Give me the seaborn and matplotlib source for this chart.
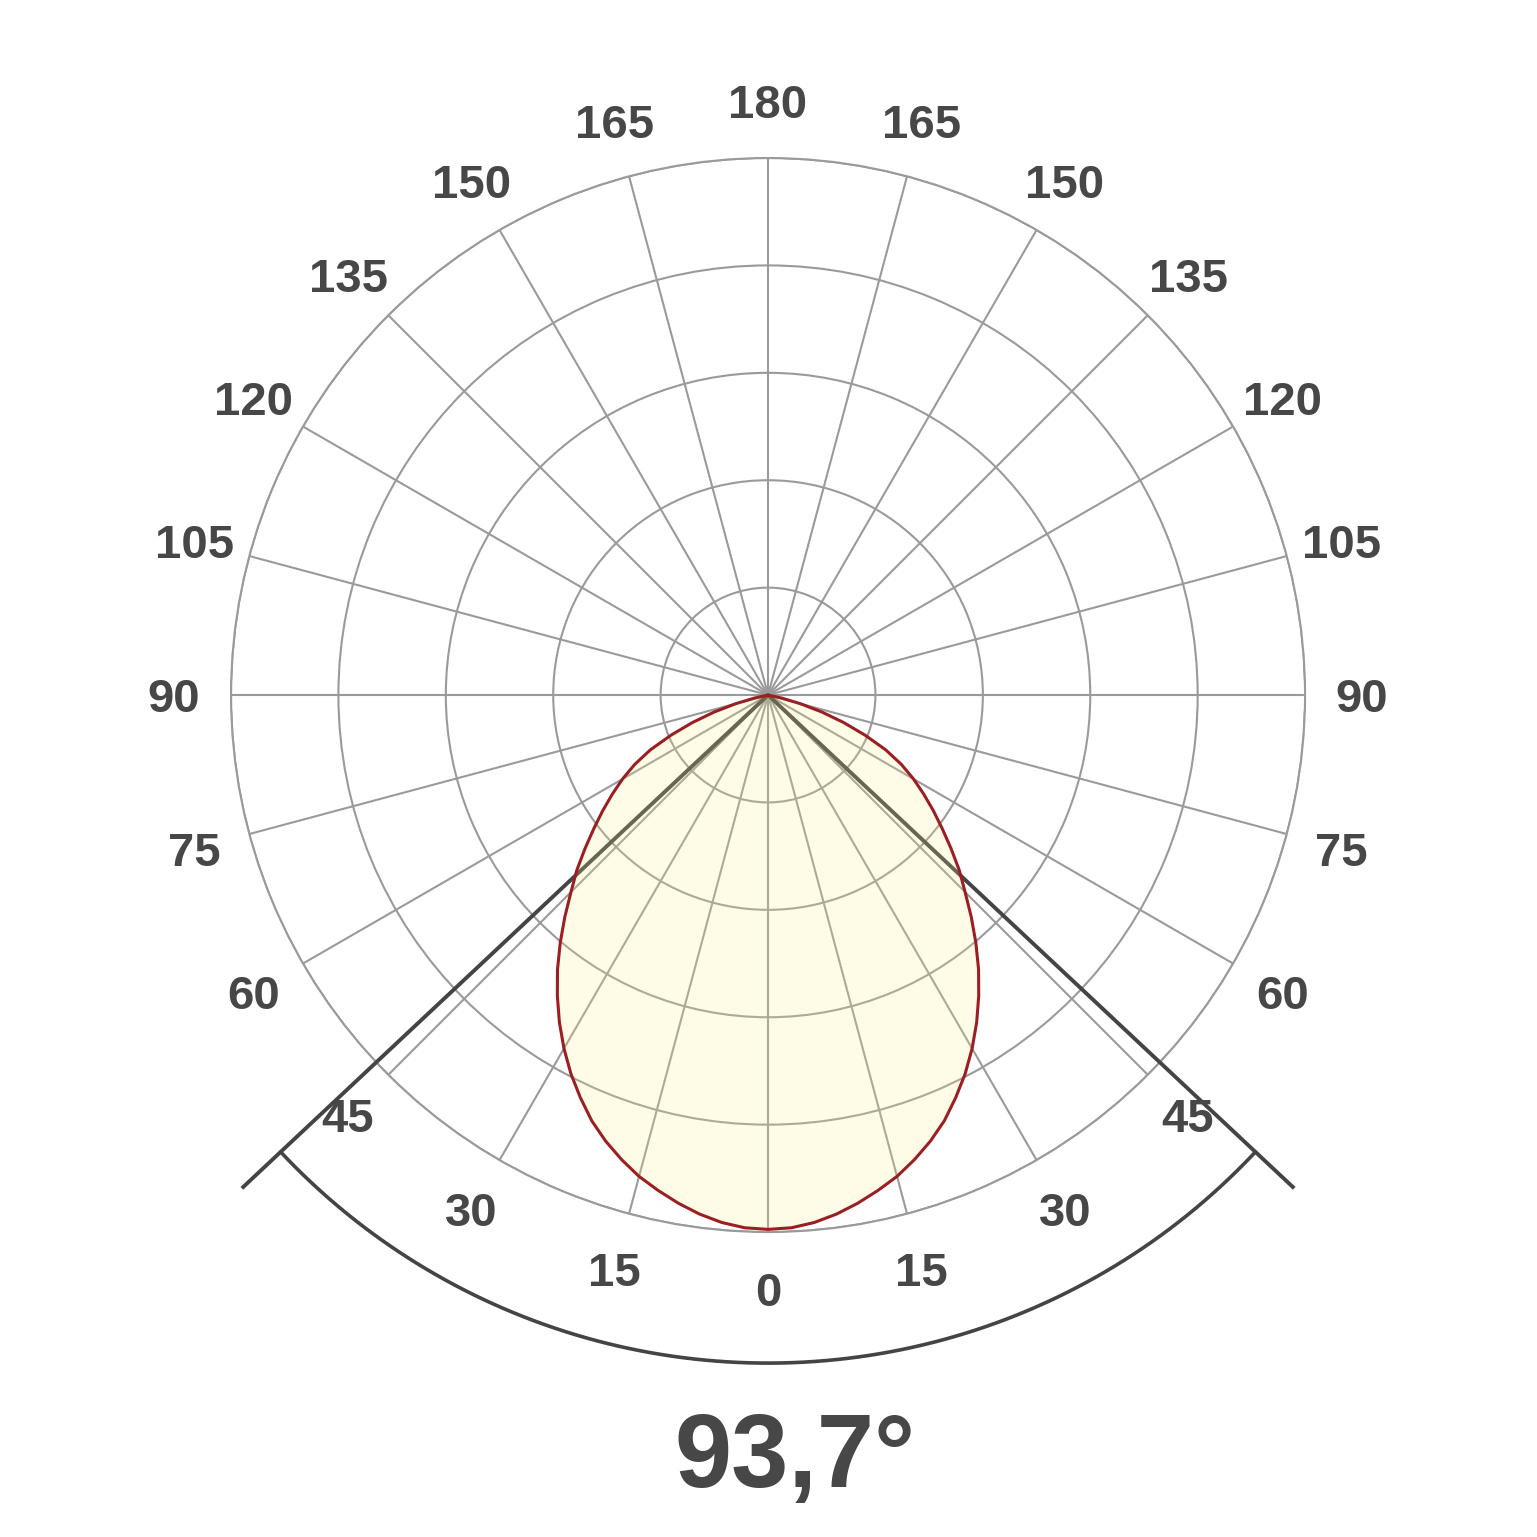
import numpy as np
import matplotlib.pyplot as plt
import seaborn as sns

# Normalised luminous intensity (symmetric, 0..90 deg)
angles = [0, 2.5, 5, 7.5, 10, 12.5, 15, 17.5, 20, 22.5, 25, 27.5, 30, 32.5, 35,
          37.5, 40, 42.5, 45, 47.5, 50, 52.5, 55, 57.5, 60, 62.5, 65, 67.5, 70,
          72.5, 75, 77.5, 80, 82.5, 85, 87.5, 90]
intensity = [0.995, 0.993, 0.986, 0.975, 0.961, 0.945, 0.928, 0.907, 0.884,
             0.858, 0.827, 0.795, 0.760, 0.723, 0.684, 0.644, 0.602, 0.560,
             0.519, 0.483, 0.445, 0.409, 0.376, 0.344, 0.313, 0.280, 0.242,
             0.196, 0.150, 0.105, 0.062, 0.025, 0.0, 0.0, 0.0, 0.0, 0.0]
beam_angle = 93.7
tick_angles = list(range(0, 360, 15))
tick_labels = [a if a <= 180 else 360 - a for a in tick_angles]
rings = [0.2, 0.4, 0.6, 0.8, 1.0]

sns.set_theme(style='white')
plt.rcParams['font.family'] = ['Liberation Sans', 'DejaVu Sans']

grid_col = '#9a9a9a'
text_col = '#474747'

fig = plt.figure(figsize=(15.37, 15.37), dpi=100)
ax = fig.add_axes([0.1503, 0.1984, 0.6988, 0.6988], projection='polar')
ax.set_theta_zero_location('S')
ax.set_ylim(0, 1)
ax.set_yticks(rings)
ax.set_yticklabels([])
ax.set_xticks(np.deg2rad(tick_angles))
ax.set_xticklabels([])
ax.grid(True, color=grid_col, linewidth=1.5)
ax.spines['polar'].set_color(grid_col)
ax.spines['polar'].set_linewidth(1.5)
ax.set_facecolor('white')

# full lobe from -90 to 90
theta = np.deg2rad(np.concatenate([-np.array(angles[::-1]), np.array(angles[1:])]))
r = np.concatenate([np.array(intensity[::-1]), np.array(intensity[1:])])

# beam angle lines + arc
half = np.deg2rad(beam_angle / 2)
for s in (-1, 1):
    ax.plot([0, s * half], [0, 1.343], color='#444444', linewidth=2.8,
            clip_on=False, zorder=3, solid_capstyle='butt')
arc_t = np.linspace(-half, half, 200)
ax.plot(arc_t, np.full_like(arc_t, 1.244), color='#444444', linewidth=2.6,
        clip_on=False, zorder=3)

ax.fill(theta, r, color='#faeb82', alpha=0.2, zorder=4, linewidth=0)
sns.lineplot(x=theta, y=r, ax=ax, sort=False, color='#9b1f22', linewidth=2.2,
             zorder=5)
ax.set_xlabel('')
ax.set_ylabel('')

for a, lbl in zip(tick_angles, tick_labels):
    ax.text(np.deg2rad(a), 1.106, str(lbl), ha='center', va='center_baseline',
            fontsize=34, fontweight='bold', color=text_col, clip_on=False)

fig.text(0.517, 0.0325, '93,7°', ha='center', va='baseline', fontsize=74,
         fontweight='bold', color=text_col)

fig.savefig('out.png', dpi=100, facecolor='white')
